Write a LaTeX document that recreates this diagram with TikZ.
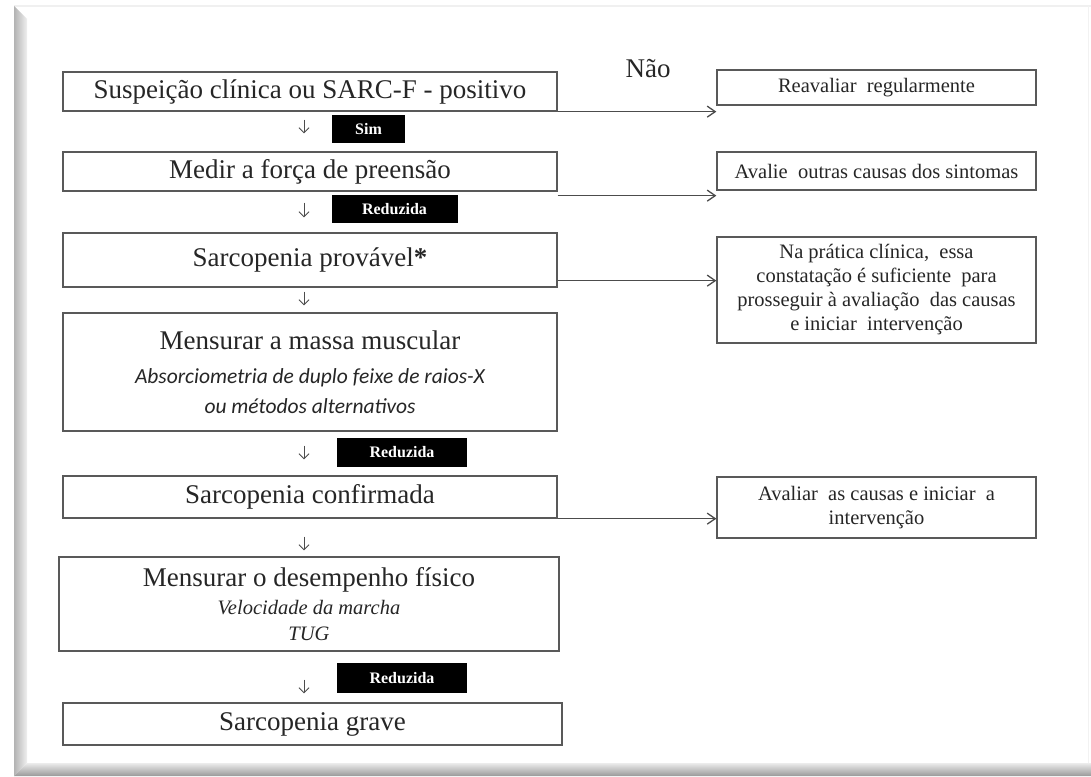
\documentclass[tikz,border=0pt]{standalone}
\usepackage{fontspec}
\setmainfont{Liberation Serif}
\newfontfamily\calibri{Carlito}
\usetikzlibrary{arrows.meta}

\begin{document}
\begin{tikzpicture}[
    x=1pt, y=-1pt,
    every node/.style={text=black!85},
    caixa/.style={
        draw=gray!70!black,
        line width=1.3pt,
        fill=white,
        align=center,
        inner sep=0pt,
        minimum width=494pt,
        font=\fontsize{27}{28}\selectfont
    },
    lado/.style={caixa, minimum width=319pt, font=\fontsize{20.5}{24}\selectfont},
    rotulo/.style={fill=black, text=white, inner sep=0pt,
        font=\fontsize{16}{18}\selectfont\bfseries},
    seta/.style={-{Straight Barb[length=8pt,width=11pt]}, line width=1.3pt, draw=gray!60!black},
    desce/.style={-{Straight Barb[length=5pt,width=10pt]}, line width=0.9pt, draw=gray!60!black}
]
    \useasboundingbox (0,0) rectangle (1091,776);

    % Moldura
    \fill[white] (0,0) rectangle (1091,776);
    \draw[gray!12, line width=1.5pt] (14,6) -- (1091,6);
    \draw[gray!10, line width=1pt] (1088,6) -- (1088,763);
    \shade[left color=gray!60, right color=gray!12]
        (14,6) -- (27,19) -- (27,763) -- (14,776) -- cycle;
    \shade[top color=gray!15, bottom color=gray!80]
        (14,776) -- (27,763) -- (1091,763) -- (1091,776) -- cycle;

    % Coluna principal
    \node[caixa, minimum height=39pt] (susp) at (310,91.5)
        {Suspeição clínica ou SARC-F - positivo};
    \node[caixa, minimum height=39pt] (forca) at (310,171.5)
        {Medir a força de preensão};
    \node[caixa, minimum height=54pt] (provavel) at (310,260)
        {Sarcopenia provável\textbf{*}};
    \node[caixa, minimum height=118pt] (massa) at (310,372)
        {Mensurar a massa muscular\\[6pt]
         {\calibri\itshape\fontsize{21.5}{24}\selectfont Absorciometria de duplo feixe de raios-X}\\[2pt]
         {\calibri\itshape\fontsize{21.5}{24}\selectfont ou métodos alternativos}};
    \node[caixa, minimum height=42pt] (confirmada) at (310,497)
        {Sarcopenia confirmada};
    \node[caixa, minimum width=500pt, minimum height=94pt] (desempenho) at (309,604)
        {Mensurar o desempenho físico\\
         {\itshape\fontsize{20.5}{24}\selectfont Velocidade da marcha}\\[-2pt]
         {\itshape\fontsize{20.5}{24}\selectfont TUG}};
    \node[caixa, minimum width=499pt, minimum height=42pt] (grave) at (312.5,724)
        {Sarcopenia grave};

    % Coluna da direita
    \node[font=\fontsize{27}{28}\selectfont] (nao) at (648,69) {Não};
    \node[lado, minimum height=35pt] (reaval) at (876.5,87.5)
        {Reavaliar\ \ regularmente};
    \node[lado, minimum height=38pt] (outras) at (876.5,171)
        {Avalie\ \ outras causas dos sintomas};
    \node[lado, minimum height=106pt] (pratica) at (876.5,290)
        {Na prática clínica,\ \ essa\\
         constatação é suficiente\ \ para\\
         prosseguir à avaliação\ \ das causas\\
         e iniciar\ \ intervenção};
    \node[lado, minimum height=61pt] (causas) at (876.5,507.5)
        {Avaliar\ \ as causas e iniciar\ \ a\\ intervenção};

    % Rotulos pretos
    \node[rotulo, minimum width=73pt, minimum height=28pt] (sim) at (368.5,129) {Sim};
    \node[rotulo, minimum width=126pt, minimum height=28pt] (red1) at (394.5,209) {Reduzida};
    \node[rotulo, minimum width=130pt, minimum height=29pt] (red2) at (402,452.5) {Reduzida};
    \node[rotulo, minimum width=130pt, minimum height=30pt] (red3) at (402,678) {Reduzida};

    % Setas para baixo
    \draw[desce] ([xshift=-6pt,yshift=-8pt]susp.south) -- ([xshift=-6pt,yshift=18pt]forca.north);
    \draw[desce] ([xshift=-6pt,yshift=-11pt]forca.south) -- ([xshift=-6pt,yshift=15pt]provavel.north);
    \draw[desce] ([xshift=-6pt,yshift=-4pt]provavel.south) -- ([xshift=-6pt,yshift=7pt]massa.north);
    \draw[desce] ([xshift=-6pt,yshift=-14pt]massa.south) -- ([xshift=-6pt,yshift=16pt]confirmada.north);
    \draw[desce] ([xshift=-6pt,yshift=-18pt]confirmada.south) -- ([xshift=-5pt,yshift=6pt]desempenho.north);
    \draw[desce] ([xshift=-5pt,yshift=-28pt]desempenho.south) -- ([xshift=-8.5pt,yshift=9pt]grave.north);

    % Setas para a direita
    \draw[seta] (susp.south east) -- (susp.south east -| reaval.west);
    \draw[seta] ([yshift=-4pt]forca.south east) -- ([yshift=-4pt]forca.south east -| outras.west);
    \draw[seta] ([yshift=7pt]provavel.south east) -- ([yshift=7pt]provavel.south east -| pratica.west);
    \draw[seta] (confirmada.south east) -- (confirmada.south east -| causas.west);

\end{tikzpicture}
\end{document}
